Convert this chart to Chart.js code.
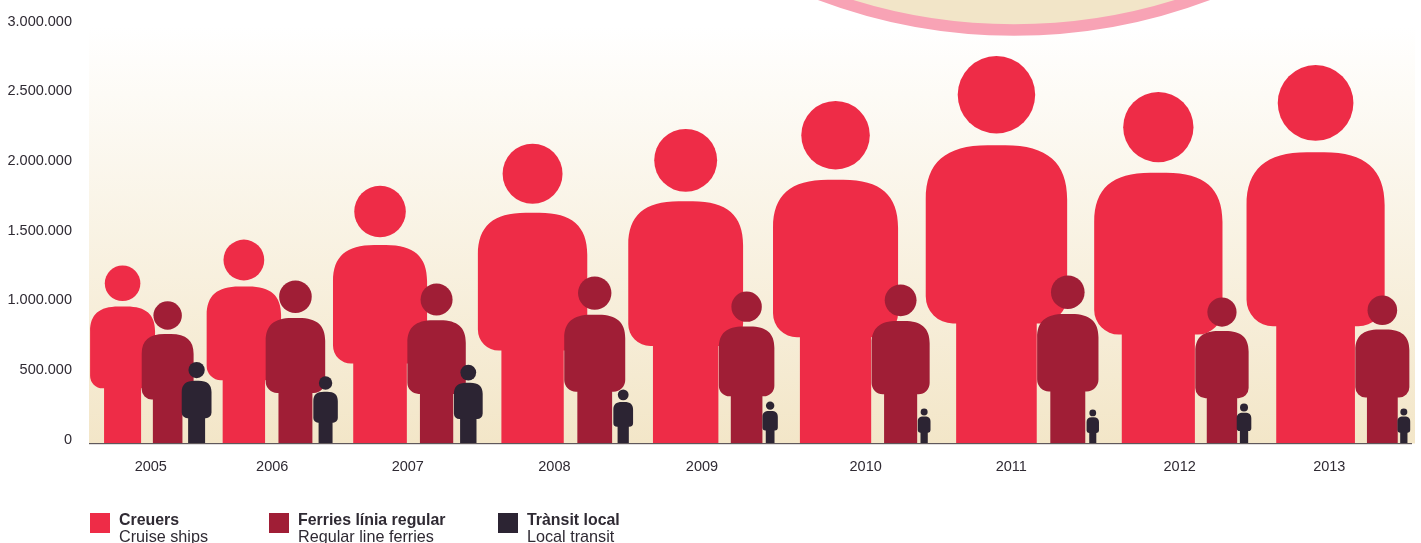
<!DOCTYPE html>
<html>
<head>
<meta charset="utf-8">
<script src="https://cdn.jsdelivr.net/npm/chart.js@4/dist/chart.umd.min.js"></script>
<style>
    html, body { margin: 0; padding: 0; background: #fff; overflow: hidden; }
    #wrap { position: relative; width: 1421px; height: 543px; font-family: "Liberation Sans", sans-serif; color: #2f2a33; }
    canvas { position: absolute; left: 0; top: 0; }
    .key { position: absolute; top: 513px; height: 30px; font-size: 16.2px; line-height: 17px; white-space: nowrap; }
    .key i { position: absolute; left: 0; top: 0; width: 20px; height: 20px; }
    .key span { position: absolute; left: 29px; top: -2px; }
    .key b { display: block; font-size: 15.9px; }
</style>
</head>
<body>
<div id="wrap"><canvas id="chart" width="1421" height="543"></canvas></div>
<script>
const years = ["2005", "2006", "2007", "2008", "2009", "2010", "2011", "2012", "2013"];
const cruise = [1278000, 1464000, 1851000, 2152000, 2259000, 2460000, 2782000, 2524000, 2717000];
const ferries = [1021000, 1171000, 1149000, 1200000, 1092000, 1142000, 1207000, 1049000, 1063000];
const local = [586000, 482000, 566000, 388000, 302000, 251000, 244000, 287000, 251000];
const yTicks = [0, 500000, 1000000, 1500000, 2000000, 2500000, 3000000];

const seriesNames = ["Creuers", "Ferries línia regular", "Trànsit local"];
const seriesNamesEn = ["Cruise ships", "Regular line ferries", "Local transit"];
const seriesColors = ["#ee2c47", "#a01e36", "#2c2433"];

// the figures stand side by side, so the x position follows from their size
const PLOT_W = 1323;
const UNITS_PER_VALUE = 419 / 3000000;
const BODY_W = 0.365;

let xCruise = [], xFerries = [], xLocal = [], yearCenters = [];
let cursor = 1;
years.forEach((y, i) => {
    let hc = cruise[i] * UNITS_PER_VALUE;
    let hf = ferries[i] * UNITS_PER_VALUE;
    let hl = local[i] * UNITS_PER_VALUE;
    let c = cursor + hc * BODY_W / 2;
    let f = c + (hc + hf) * BODY_W / 2 - (0.08 * hc - 0.76);
    let l = f + (hf + hl) * BODY_W / 2 - 12;
    xCruise.push(c);
    xFerries.push(f);
    xLocal.push(l);
    let right = l + hl * BODY_W / 2;
    yearCenters.push((cursor + right) / 2);
    cursor = right - 5;
});

// the year labels of 2010 and 2012 sit right of the middle of their group
const labelNudge = [0, 0, 0, -1, -1, 14, -1, 7, 1];

function points(xs, values) {
    return values.map((v, i) => ({ x: xs[i], y: v }));
}

function drawPerson(ctx, cx, top, base, color) {
    let h = base - top;
    let w = h * BODY_W;
    let bodyTop = top + h * 0.23;
    let bodyBottom = top + h * 0.69;
    let rx = h * 0.16, ry = h * 0.14, r = h * 0.07;
    let k = 0.68;
    let left = cx - w / 2, right = cx + w / 2;
    let leg = h * 0.104;

    ctx.fillStyle = color;
    ctx.beginPath();
    ctx.arc(cx, top + h * 0.1, h * 0.1, 0, Math.PI * 2);
    ctx.fill();

    ctx.beginPath();
    ctx.moveTo(left, bodyTop + ry);
    ctx.bezierCurveTo(left, bodyTop + ry * (1 - k), left + rx * (1 - k), bodyTop, left + rx, bodyTop);
    ctx.lineTo(right - rx, bodyTop);
    ctx.bezierCurveTo(right - rx * (1 - k), bodyTop, right, bodyTop + ry * (1 - k), right, bodyTop + ry);
    ctx.lineTo(right, bodyBottom - r);
    ctx.arc(right - r, bodyBottom - r, r, 0, Math.PI / 2);
    ctx.lineTo(cx + leg, bodyBottom);
    ctx.lineTo(cx + leg, base);
    ctx.lineTo(cx - leg, base);
    ctx.lineTo(cx - leg, bodyBottom);
    ctx.lineTo(left + r, bodyBottom);
    ctx.arc(left + r, bodyBottom - r, r, Math.PI / 2, Math.PI);
    ctx.closePath();
    ctx.fill();
}

const peopleBars = {
    id: "peopleBars",
    beforeDatasetDraw(chart, args) {
        let color = chart.data.datasets[args.index].backgroundColor;
        args.meta.data.forEach(bar => drawPerson(chart.ctx, bar.x, bar.y, bar.base, color));
        return false;
    }
};

const backdrop = {
    id: "backdrop",
    beforeDatasetsDraw(chart) {
        let ctx = chart.ctx, area = chart.chartArea;
        let grad = ctx.createLinearGradient(0, area.top, 0, area.bottom);
        grad.addColorStop(0, "#ffffff");
        grad.addColorStop(1, "#f3e6c8");
        ctx.fillStyle = grad;
        ctx.fillRect(area.left, area.top, area.width + 3, area.height);

        // big disc cut off by the top edge
        ctx.beginPath();
        ctx.arc(1014, -520, 550, 0, Math.PI * 2);
        ctx.fillStyle = "#f2e5c8";
        ctx.fill();
        ctx.lineWidth = 11.5;
        ctx.strokeStyle = "#f8a3b5";
        ctx.stroke();
    }
};

// the baseline goes over the feet, so it is drawn last
const baseline = {
    id: "baseline",
    afterDatasetsDraw(chart) {
        let ctx = chart.ctx, area = chart.chartArea;
        ctx.fillStyle = "#5f585b";
        ctx.fillRect(area.left, area.bottom - 0.5, area.width, 1.2);
    }
};

function dataset(i, xs, values) {
    return {
        label: seriesNames[i],
        data: points(xs, values),
        backgroundColor: seriesColors[i],
        order: 3 - i,
        grouped: false,
        barThickness: 1
    };
}

new Chart(document.getElementById("chart"), {
    type: "bar",
    data: {
        datasets: [
            dataset(0, xCruise, cruise),
            dataset(1, xFerries, ferries),
            dataset(2, xLocal, local)
        ]
    },
    plugins: [backdrop, peopleBars, baseline],
    options: {
        responsive: false,
        animation: false,
        layout: { padding: { top: 24.5, right: 9, left: 0, bottom: 0 } },
        plugins: { legend: { display: false }, tooltip: { enabled: false } },
        scales: {
            x: {
                type: "linear",
                min: 0,
                max: PLOT_W,
                offset: false,
                grid: { display: false },
                border: { display: false },
                afterFit(scale) { scale.height = 99.5; },
                afterBuildTicks(scale) {
                    scale.ticks = yearCenters.map((c, i) => ({ value: c + labelNudge[i] }));
                },
                ticks: {
                    autoSkip: false,
                    maxRotation: 0,
                    padding: 7,
                    color: "#2f2a33",
                    font: { family: "Liberation Sans", size: 14.5 },
                    callback: (value, index) => years[index]
                }
            },
            y: {
                min: 0,
                max: 3000000,
                grid: { display: false, drawTicks: false },
                border: { display: false },
                afterFit(scale) { scale.width = 89; },
                afterBuildTicks(scale) {
                    scale.ticks = yTicks.map(v => ({ value: v }));
                },
                ticks: {
                    padding: 17,
                    labelOffset: -4,
                    color: "#2f2a33",
                    font: { family: "Liberation Sans", size: 14.5 },
                    callback: value => value.toLocaleString("de-DE")
                }
            }
        }
    }
});

// legend with the two languages under each other
const keyLeft = [90, 269, 498];
seriesNames.forEach((name, i) => {
    let key = document.createElement("div");
    key.className = "key";
    key.style.left = keyLeft[i] + "px";
    key.innerHTML = '<i style="background:' + seriesColors[i] + '"></i><span><b>' + name + "</b>" + seriesNamesEn[i] + "</span>";
    document.getElementById("wrap").appendChild(key);
});
</script>
</body>
</html>
